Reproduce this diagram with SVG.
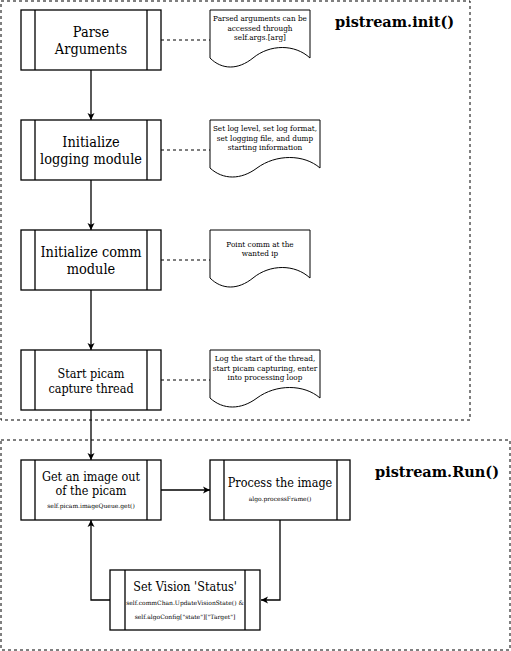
<svg xmlns="http://www.w3.org/2000/svg" width="511" height="651" viewBox="0 0 511 651">
<defs>
<style>
.frame{fill:none;stroke:#000;stroke-width:1;stroke-dasharray:3,3}
.box{fill:#fff;stroke:#000;stroke-width:1.3}
.ln{fill:none;stroke:#000;stroke-width:1.3}
.dash{fill:none;stroke:#000;stroke-width:1;stroke-dasharray:3,3}
.note{fill:#fff;stroke:#000;stroke-width:1}
text{font-family:"DejaVu Serif","Liberation Serif",serif;fill:#000;text-anchor:middle}
.t{font-size:14.4px;font-family:"DejaVu Serif Condensed","DejaVu Serif",serif;font-stretch:condensed}
.m{font-size:12.5px;font-family:"DejaVu Serif Condensed","DejaVu Serif",serif;font-stretch:condensed}
.n{font-size:8.1px;font-family:"DejaVu Serif Condensed","DejaVu Serif",serif;font-stretch:condensed}
.s{font-size:6px}
.title{font-size:14.5px;font-weight:bold;text-anchor:start}
</style>
<marker id="arr" markerWidth="8" markerHeight="8" refX="7" refY="4" orient="auto" markerUnits="userSpaceOnUse">
<path d="M0,0.5 L7,4 L0,7.5 L1.8,4 z" fill="#000"/>
</marker>
</defs>
<rect class="frame" x="1" y="1" width="469" height="419"/>
<rect class="frame" x="1" y="440" width="509" height="210"/>
<text class="title" x="335" y="27">pistream.init()</text>
<text class="title" x="375" y="477">pistream.Run()</text>

<g id="connectors">
<path class="ln" d="M91,70 V120" marker-end="url(#arr)"/>
<path class="ln" d="M91,180 V230" marker-end="url(#arr)"/>
<path class="ln" d="M91,290 V350" marker-end="url(#arr)"/>
<path class="ln" d="M91,410 V460" marker-end="url(#arr)"/>
<path class="ln" d="M161,490 H210" marker-end="url(#arr)"/>
<path class="ln" d="M280,520 V600 H261" marker-end="url(#arr)"/>
<path class="ln" d="M110,600 H91 V520" marker-end="url(#arr)"/>
<path class="dash" d="M161,40 H210"/>
<path class="dash" d="M161,150 H210"/>
<path class="dash" d="M161,260 H210"/>
<path class="dash" d="M161,380 H210"/>
</g>

<g id="parse">
<rect class="box" x="21" y="10" width="140" height="60"/>
<path class="ln" d="M35,10 V70 M147,10 V70"/>
<text class="t" x="91" y="37">Parse</text>
<text class="t" x="91" y="54">Arguments</text>
</g>
<g id="logging">
<rect class="box" x="21" y="120" width="140" height="60"/>
<path class="ln" d="M35,120 V180 M147,120 V180"/>
<text class="t" x="91" y="147">Initialize</text>
<text class="t" x="91" y="164">logging module</text>
</g>
<g id="comm">
<rect class="box" x="21" y="230" width="140" height="60"/>
<path class="ln" d="M35,230 V290 M147,230 V290"/>
<text class="t" x="91" y="257">Initialize comm</text>
<text class="t" x="91" y="274">module</text>
</g>
<g id="picam">
<rect class="box" x="21" y="350" width="140" height="60"/>
<path class="ln" d="M35,350 V410 M147,350 V410"/>
<text class="m" x="91" y="378">Start picam</text>
<text class="m" x="91" y="393">capture thread</text>
</g>

<g id="note1">
<path class="note" d="M210,10 H310 V58 C295,44 270,44 253,58 C238,70 222,70 210,58 Z"/>
<text class="n" x="260" y="21">Parsed arguments can be</text>
<text class="n" x="260" y="31">accessed through</text>
<text class="n" x="260" y="40">self.args.[arg]</text>
</g>
<g id="note2">
<path class="note" d="M210,120 H320 V168 C304,154 276,154 257,168 C241,180 223,180 210,168 Z"/>
<text class="n" x="265" y="131">Set log level, set log format,</text>
<text class="n" x="265" y="141">set logging file, and dump</text>
<text class="n" x="265" y="150">starting information</text>
</g>
<g id="note3">
<path class="note" d="M210,230 H310 V278 C295,264 270,264 253,278 C238,290 222,290 210,278 Z"/>
<text class="n" x="260" y="247">Point comm at the</text>
<text class="n" x="260" y="256">wanted ip</text>
</g>
<g id="note4">
<path class="note" d="M210,350 H320 V398 C304,384 276,384 257,398 C241,410 223,410 210,398 Z"/>
<text class="n" x="265" y="361">Log the start of the thread,</text>
<text class="n" x="265" y="371">start picam capturing, enter</text>
<text class="n" x="265" y="380">into processing loop</text>
</g>

<g id="getimage">
<rect class="box" x="21" y="460" width="140" height="60"/>
<path class="ln" d="M35,460 V520 M147,460 V520"/>
<text class="m" x="91" y="481">Get an image out</text>
<text class="m" x="91" y="495">of the picam</text>
<text class="s" x="91" y="508">self.picam.imageQueue.get()</text>
</g>
<g id="process">
<rect class="box" x="210" y="460" width="140" height="60"/>
<path class="ln" d="M224,460 V520 M337,460 V520"/>
<text class="m" x="280" y="487">Process the image</text>
<text class="s" x="280" y="501">algo.processFrame()</text>
</g>
<g id="setvision">
<rect class="box" x="110" y="570" width="150" height="60"/>
<path class="ln" d="M125,570 V630 M245,570 V630"/>
<text class="m" x="185" y="591">Set Vision 'Status'</text>
<text class="s" x="185" y="605">self.commChan.UpdateVisionState() &amp;</text>
<text class="s" x="185" y="619">self.algoConfig["state"]["Target"]</text>
</g>
</svg>
